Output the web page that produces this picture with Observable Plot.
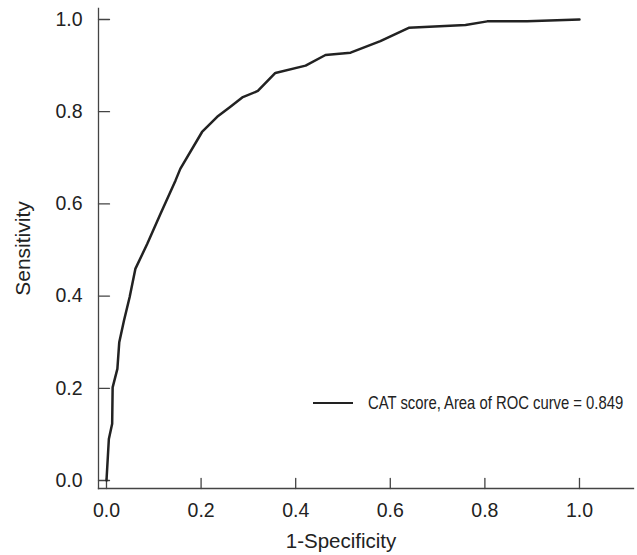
<!DOCTYPE html>
<html>
<head>
<meta charset="utf-8">
<script src="https://cdn.jsdelivr.net/npm/d3@7"></script>
<script src="https://cdn.jsdelivr.net/npm/@observablehq/plot@0.6"></script>
<style>
  html, body { margin: 0; padding: 0; background: #fff; }
  #wrap { position: relative; width: 637px; height: 555px; font-family: "Liberation Sans", Arial, sans-serif; }
  #legend { position: absolute; left: 313px; top: 392px; display: flex; align-items: center; color: #222; font-size: 19px; line-height: 22px; white-space: nowrap; }
  #legend .swatch { width: 40px; height: 2.5px; background: #222; margin-right: 15px; flex: none; }
  #legend .txt { display: inline-block; transform: scaleX(0.78); transform-origin: left center; }
</style>
</head>
<body>
<div id="wrap"></div>
<script>
const fpr = [0, 0.005, 0.012, 0.013, 0.023, 0.027, 0.037, 0.049, 0.061, 0.086, 0.114, 0.146, 0.156, 0.202, 0.234, 0.262, 0.287, 0.320, 0.357, 0.421, 0.463, 0.516, 0.579, 0.639, 0.759, 0.805, 0.889, 1.0];
const tpr = [0, 0.09, 0.123, 0.202, 0.242, 0.300, 0.347, 0.398, 0.459, 0.513, 0.578, 0.651, 0.676, 0.756, 0.789, 0.811, 0.831, 0.845, 0.884, 0.900, 0.923, 0.928, 0.953, 0.982, 0.988, 0.996, 0.996, 1.0];
const tickValues = [0, 0.2, 0.4, 0.6, 0.8, 1.0];
const seriesLabel = "CAT score, Area of ROC curve = 0.849";
const xTitle = "1-Specificity";
const yTitle = "Sensitivity";

const data = fpr.map((x, i) => ({x, y: tpr[i]}));
const tickShape = {draw(context, l) { context.moveTo(0, 0); context.lineTo(0, -l); }};

const chart = Plot.plot({
  width: 637,
  height: 555,
  marginLeft: 98,
  marginRight: 4,
  marginTop: 8,
  marginBottom: 67,
  style: {fontFamily: '"Liberation Sans", Arial, sans-serif', fontSize: "19.5px", color: "#222", background: "#fff"},
  x: {domain: [-0.0169, 1.1142]},
  y: {domain: [-0.0174, 1.0239]},
  marks: [
    Plot.axisX(tickValues, {tickSize: 0, tickPadding: 15, tickFormat: d3.format(".1f"), label: null, fontSize: 19.5}),
    Plot.axisY(tickValues, {tickSize: 0, tickPadding: 16, tickFormat: d3.format(".1f"), label: null, fontSize: 19.5}),
    Plot.vector(tickValues, {x: d => d, frameAnchor: "bottom", rotate: 0, length: 10, anchor: "start", shape: tickShape, stroke: "#444", strokeWidth: 1.3}),
    Plot.vector(tickValues, {y: d => d, frameAnchor: "left", rotate: 90, length: 11, anchor: "start", shape: tickShape, stroke: "#444", strokeWidth: 1.3}),
    Plot.text([xTitle], {frameAnchor: "bottom", dx: -25, dy: 59, lineAnchor: "bottom", fontSize: 20.5, fill: "#222"}),
    Plot.text([yTitle], {frameAnchor: "left", dx: -83, rotate: -90, textAnchor: "middle", lineAnchor: "top", fontSize: 21, fill: "#222"}),
    Plot.frame({anchor: "left", stroke: "#444", strokeWidth: 1.3}),
    Plot.frame({anchor: "bottom", stroke: "#444", strokeWidth: 1.3}),
    Plot.line(data, {x: "x", y: "y", stroke: "#222", strokeWidth: 2.5})
  ]
});
const wrap = document.getElementById("wrap");
wrap.appendChild(chart);
const legend = document.createElement("div");
legend.id = "legend";
legend.innerHTML = `<span class="swatch"></span><span class="txt"></span>`;
legend.lastChild.textContent = seriesLabel;
wrap.appendChild(legend);
</script>
</body>
</html>
